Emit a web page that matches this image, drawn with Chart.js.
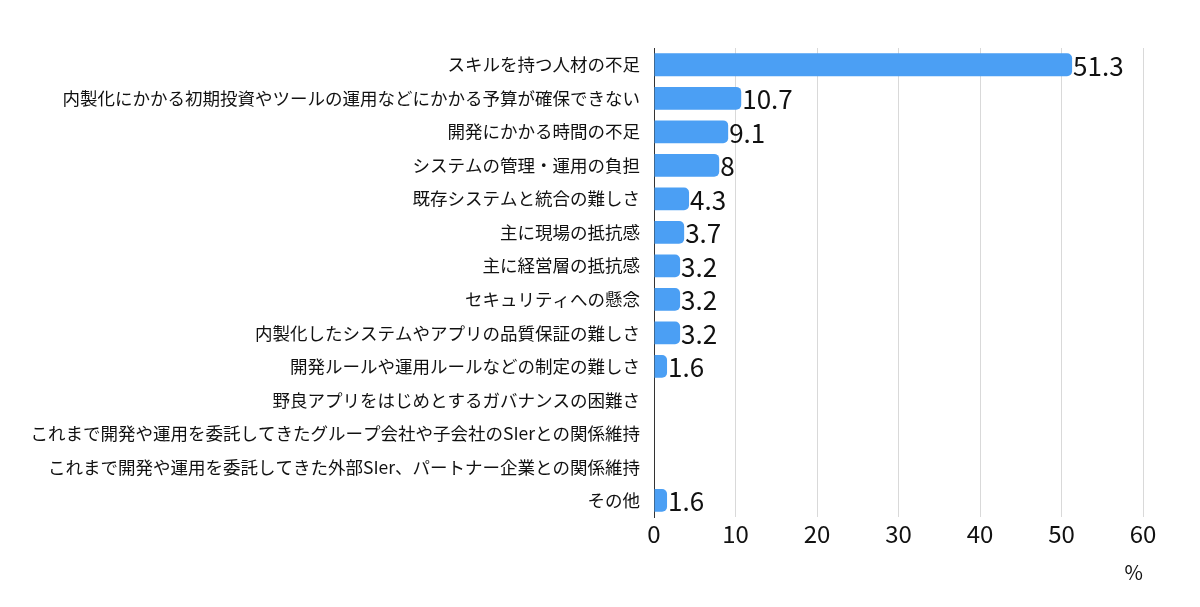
<!DOCTYPE html>
<html>
<head>
<meta charset="utf-8">
<script src="https://cdn.jsdelivr.net/npm/chart.js@4"></script>
<style>
  html, body { margin: 0; padding: 0; background: #fff; }
  #wrap { width: 1200px; height: 607px; }
</style>
</head>
<body>
<div id="wrap"><canvas id="barChart"></canvas></div>
<script>
// 項目ラベル
const categories = [
  'スキルを持つ人材の不足',
  '内製化にかかる初期投資やツールの運用などにかかる予算が確保できない',
  '開発にかかる時間の不足',
  'システムの管理・運用の負担',
  '既存システムと統合の難しさ',
  '主に現場の抵抗感',
  '主に経営層の抵抗感',
  'セキュリティへの懸念',
  '内製化したシステムやアプリの品質保証の難しさ',
  '開発ルールや運用ルールなどの制定の難しさ',
  '野良アプリをはじめとするガバナンスの困難さ',
  'これまで開発や運用を委託してきたグループ会社や子会社のSIerとの関係維持',
  'これまで開発や運用を委託してきた外部SIer、パートナー企業との関係維持',
  'その他'
];
// 回答割合 (%)
const values = [51.3, 10.7, 9.1, 8, 4.3, 3.7, 3.2, 3.2, 3.2, 1.6, 0, 0, 0, 1.6];
const xTicks = [0, 10, 20, 30, 40, 50, 60];

const fontFamily = '"Noto Sans CJK JP", "Noto Sans", sans-serif';

// バーの右側に値を描くプラグイン
const valueLabels = {
  id: 'valueLabels',
  afterDatasetsDraw(chart) {
    const ctx = chart.ctx;
    const meta = chart.getDatasetMeta(0);
    ctx.save();
    ctx.font = '26px ' + fontFamily;
    ctx.fillStyle = '#111';
    ctx.textBaseline = 'middle';
    ctx.textAlign = 'left';
    meta.data.forEach((bar, i) => {
      if (!values[i]) return;
      ctx.fillText(String(values[i]), bar.x + 1, bar.y + 1);
    });
    ctx.restore();
  }
};

new Chart(document.getElementById('barChart'), {
  type: 'bar',
  data: {
    labels: categories,
    datasets: [{
      data: values,
      backgroundColor: '#4b9ff4',
      borderRadius: 5,
      borderSkipped: 'start',
      categoryPercentage: 0.68,
      barPercentage: 1
    }]
  },
  options: {
    indexAxis: 'y',
    responsive: true,
    maintainAspectRatio: false,
    animation: false,
    layout: { padding: { top: 48, right: 57, bottom: 20, left: 10 } },
    plugins: {
      legend: { display: false },
      tooltip: { enabled: false }
    },
    scales: {
      x: {
        min: 0,
        max: 60,
        afterBuildTicks: axis => { axis.ticks = xTicks.map(v => ({ value: v })); },
        grid: { color: '#d9d9d9', drawTicks: false },
        border: { display: false },
        ticks: { font: { family: fontFamily, size: 24 }, color: '#111', padding: 2 },
        title: {
          display: true,
          text: '%',
          align: 'end',
          font: { family: fontFamily, size: 20 },
          color: '#111',
          padding: { top: 10, bottom: 3 }
        }
      },
      y: {
        afterFit: axis => { axis.width = 644; },
        grid: { display: false, drawTicks: false },
        border: { display: true, color: '#333', width: 1 },
        ticks: { font: { family: fontFamily, size: 17.5 }, color: '#111', padding: 14 }
      }
    }
  },
  plugins: [valueLabels]
});
</script>
</body>
</html>
